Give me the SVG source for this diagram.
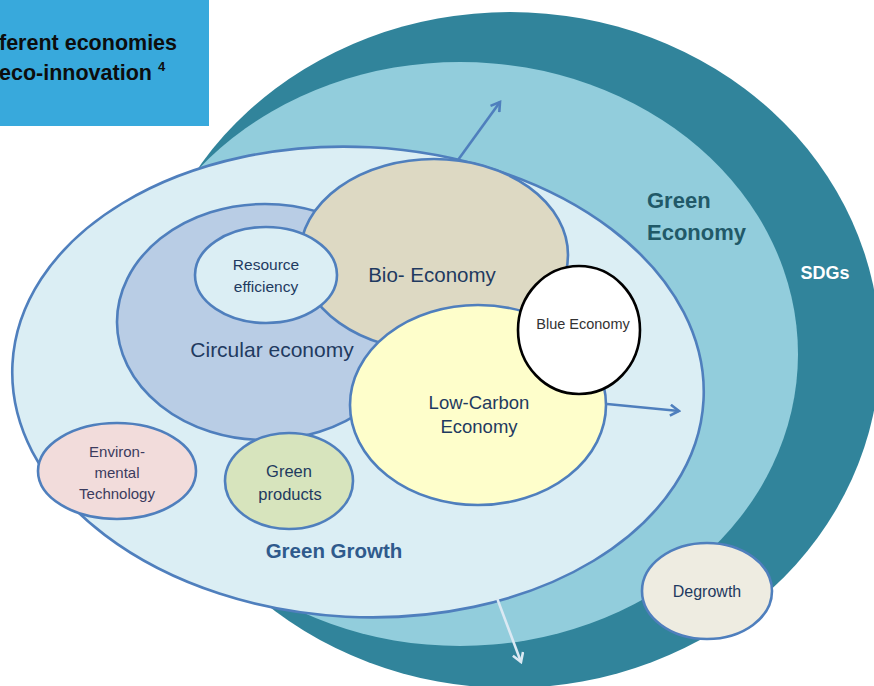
<svg xmlns="http://www.w3.org/2000/svg" width="874" height="686" viewBox="0 0 874 686">
<defs>
<style>
.lbl{font-family:"Liberation Sans",Arial,sans-serif;fill:#1f3a60;text-anchor:middle}
.bold{font-weight:bold}
.node{stroke:#4f7fbd;stroke-width:2.6}
.conn{fill:none;stroke:#4f7fbd;stroke-width:2.6}
</style>
<marker id="chev" viewBox="0 0 12 12" refX="10" refY="6" markerWidth="12" markerHeight="12" markerUnits="userSpaceOnUse" orient="auto">
<path d="M2,1 L10,6 L2,11" fill="none" stroke="context-stroke" stroke-width="2.4"/>
</marker>
<marker id="chevB" viewBox="0 0 12 12" refX="10" refY="6" markerWidth="13" markerHeight="13" markerUnits="userSpaceOnUse" orient="auto">
<path d="M2,1 L10,6 L2,11" fill="none" stroke="#4f7fbd" stroke-width="2.4"/>
</marker>
<marker id="chevW" viewBox="0 0 12 12" refX="10" refY="6" markerWidth="13" markerHeight="13" markerUnits="userSpaceOnUse" orient="auto">
<path d="M2,1 L10,6 L2,11" fill="none" stroke="#dbe9f3" stroke-width="2.4"/>
</marker>
</defs>
<rect width="874" height="686" fill="#ffffff"/>

<g id="sdgs">
<ellipse cx="510" cy="350" rx="370" ry="338" fill="#31849b"/>
<text class="lbl bold" x="825" y="279" font-size="18" style="fill:#ffffff">SDGs</text>
</g>

<g id="green-economy">
<ellipse cx="460" cy="354" rx="338" ry="292" fill="#92cddc"/>
<text class="lbl bold" x="647" y="208" font-size="22" style="fill:#215968;text-anchor:start">Green</text>
<text class="lbl bold" x="647" y="240" font-size="22" style="fill:#215968;text-anchor:start">Economy</text>
</g>

<g id="green-growth">
<ellipse class="node" cx="358" cy="382" rx="346" ry="235" transform="rotate(3 358 382)" fill="#dbeef4"/>
<text class="lbl bold" x="334" y="558" font-size="20.5" style="fill:#2f5a8c">Green Growth</text>
</g>

<g id="circular-economy">
<ellipse class="node" cx="265" cy="322" rx="148" ry="118" fill="#b9cde5"/>
</g>

<g id="bio-economy">
<ellipse class="node" cx="434" cy="255" rx="134" ry="96" fill="#ddd9c3"/>
<text class="lbl" x="432" y="282" font-size="20.5">Bio- Economy</text>
</g>

<g id="resource-efficiency">
<ellipse class="node" cx="266" cy="275" rx="71" ry="48" fill="#dbeef4"/>
<text class="lbl" x="266" y="270" font-size="15.5">Resource</text>
<text class="lbl" x="266" y="292" font-size="15.5">efficiency</text>
</g>

<g id="low-carbon-economy">
<ellipse class="node" cx="478" cy="405" rx="128" ry="100" fill="#fefecb"/>
<text class="lbl" x="479" y="409" font-size="18.5">Low-Carbon</text>
<text class="lbl" x="479" y="433" font-size="18.5">Economy</text>
</g>

<g id="circular-label">
<text class="lbl" x="272" y="357" font-size="21">Circular economy</text>
</g>

<g id="blue-economy">
<ellipse cx="579" cy="330" rx="61" ry="64" fill="#ffffff" stroke="#000000" stroke-width="2.6"/>
<text class="lbl" x="583" y="329" font-size="14.5" style="fill:#333333">Blue Economy</text>
</g>

<g id="environmental-technology">
<ellipse class="node" cx="117" cy="471" rx="79" ry="48" fill="#f2dcdb"/>
<text class="lbl" x="117" y="457" font-size="15" style="fill:#3b3b5e">Environ-</text>
<text class="lbl" x="117" y="478" font-size="15" style="fill:#3b3b5e">mental</text>
<text class="lbl" x="117" y="499" font-size="15" style="fill:#3b3b5e">Technology</text>
</g>

<g id="green-products">
<ellipse class="node" cx="289" cy="481" rx="64" ry="48" fill="#d7e4bd"/>
<text class="lbl" x="289" y="477" font-size="16.5">Green</text>
<text class="lbl" x="290" y="500" font-size="16.5">products</text>
</g>

<g id="degrowth">
<ellipse class="node" cx="707" cy="591" rx="65" ry="48" fill="#eeece1"/>
<text class="lbl" x="707" y="597" font-size="16">Degrowth</text>
</g>

<g id="connectors">
<line class="conn" x1="458" y1="160" x2="500" y2="102" marker-end="url(#chevB)"/>
<line class="conn" x1="607" y1="404" x2="679" y2="411" marker-end="url(#chevB)"/>
<line class="conn" x1="497" y1="598" x2="521" y2="662" style="stroke:#dbe9f3" marker-end="url(#chevW)"/>
</g>

<g id="title">
<rect x="0" y="0" width="209" height="126" fill="#38a9dc"/>
<text class="bold" x="-1" y="50" font-size="21.5" font-family="'Liberation Sans',Arial,sans-serif" fill="#0d0d0d">ferent economies</text>
<text class="bold" x="-1" y="80" font-size="21.5" font-family="'Liberation Sans',Arial,sans-serif" fill="#0d0d0d">eco-innovation <tspan font-size="13" dy="-9">4</tspan></text>
</g>
</svg>
